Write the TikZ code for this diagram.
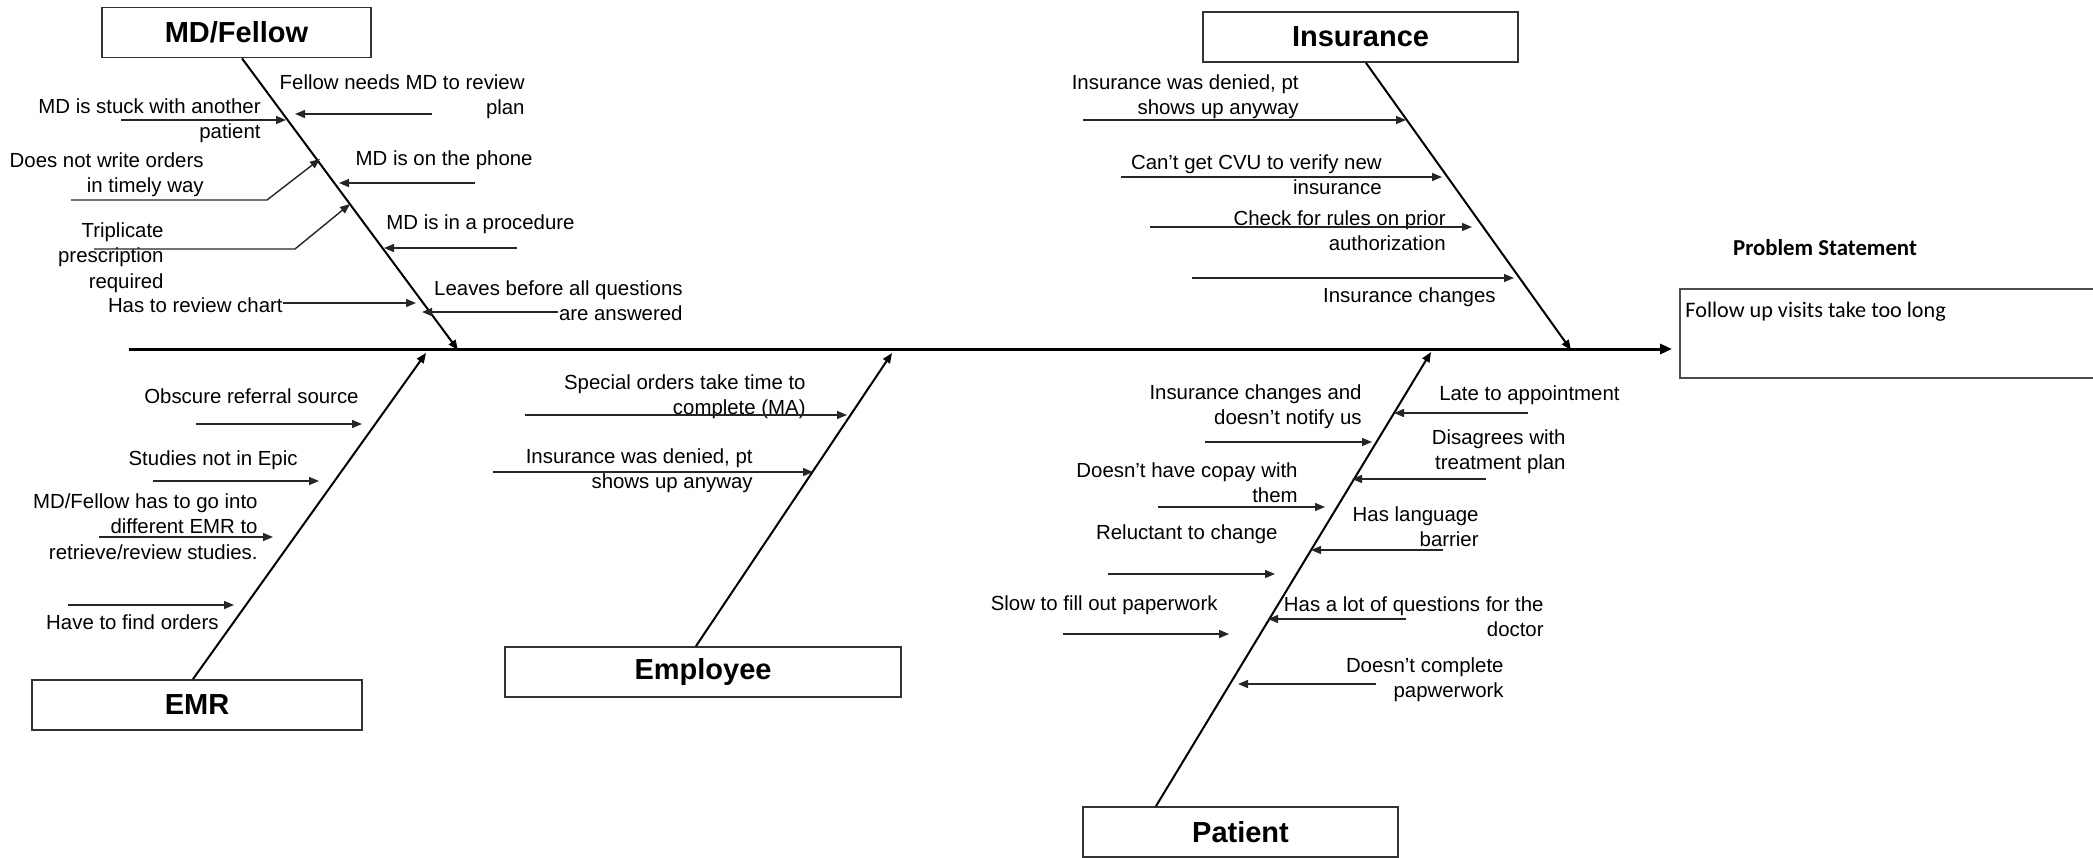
\documentclass[tikz,border=0pt]{standalone}
\usepackage{fontspec}
\setmainfont{Liberation Sans}
\newfontfamily\calibri{Carlito}
\usetikzlibrary{arrows.meta}

\begin{document}
\begin{tikzpicture}[x=0.5pt, y=-0.5pt,
  catbox/.style={draw=black!80, line width=0.9pt, minimum height=25pt, inner sep=0, font=\fontsize{14.5}{17}\selectfont\bfseries},
  cause/.style={font=\fontsize{10.2}{12.8}\selectfont, align=right, anchor=base east, inner sep=0},
  spine/.style={line width=1.5pt, -{Triangle[length=6pt,width=5pt]}},
  bone/.style={line width=1pt, -{Triangle[length=5pt,width=4pt]}},
  twig/.style={draw=black!85, line width=0.7pt, -{Triangle[length=5pt,width=4pt]}}]
\useasboundingbox (0,0) rectangle (2093,857);

%problem statement
\node[font=\calibri\fontsize{11.4}{13}\selectfont\bfseries, anchor=base] (pslabel) at (1825,255) {Problem Statement};
\node[draw=black!70, line width=0.8pt, minimum width=220pt, minimum height=44.5pt, anchor=north west, inner sep=0] (problem) at (1679,288) {};
\node[font=\calibri\fontsize{11.1}{13}\selectfont, anchor=base west, inner sep=0] (pstext) at (1685,317) {Follow up visits take too long};

%spine
\coordinate (tail) at (129,349);
\draw[spine, shorten >=3.5pt] (tail) -- (problem.west |- tail);

%categories
\node[catbox, minimum width=134.5pt] (mdfellow) at (236.5,32.5) {MD/Fellow};
\node[catbox, minimum width=157.5pt] (insurance) at (1360.5,37) {Insurance};
\node[catbox, minimum width=165pt] (emr) at (197,705) {EMR};
\node[catbox, minimum width=198pt] (employee) at (703,672) {Employee};
\node[catbox, minimum width=157.5pt] (patient) at (1240.5,832) {Patient};

\coordinate (hMD) at (458,350);
\coordinate (hIns) at (1571,350);
\coordinate (hEMR) at (426,353);
\coordinate (hEmp) at (892,353);
\coordinate (hPat) at (1431,352);
\draw[bone] ([xshift=2.75pt]mdfellow.south) -- (hMD);
\draw[bone] ([xshift=2.75pt]insurance.south) -- (hIns);
\draw[bone] ([xshift=-2pt]emr.north) -- (hEMR);
\draw[bone] ([xshift=-3.5pt]employee.north) -- (hEmp);
\draw[bone] ([xshift=-42.25pt]patient.north) -- (hPat);

%MD/Fellow causes (base = last line)
\node[cause] (f1) at (525,114.6) {Fellow needs MD to review\\plan};
\node[cause] (f2) at (261,138.6) {MD is stuck with another\\patient};
\node[cause] (f3) at (204,192.6) {Does not write orders\\in timely way};
\node[cause] (f4) at (533,165) {MD is on the phone};
\node[cause] (f5) at (164,288.2) {Triplicate\\prescription\\required};
\node[cause] (f6) at (575,229) {MD is in a procedure};
\node[cause] (f7) at (283,312) {Has to review chart};
\node[cause] (f8) at (683,320.6) {Leaves before all questions\\are answered};
\coordinate (f1a) at (432,114); \coordinate (f1b) at (295,114);
\coordinate (f2a) at (121,120); \coordinate (f2b) at (286,120);
\coordinate (f3a) at (71,200); \coordinate (f3k) at (267,200); \coordinate (f3b) at (320,159);
\coordinate (f4a) at (475,183); \coordinate (f4b) at (339,183);
\coordinate (f5a) at (94,249); \coordinate (f5k) at (295,249); \coordinate (f5b) at (350,204);
\coordinate (f6a) at (517,248); \coordinate (f6b) at (384,248);
\coordinate (f7a) at (283,303); \coordinate (f7b) at (416,303);
\coordinate (f8a) at (558,312); \coordinate (f8b) at (422,312);
\draw[twig] (f1a) -- (f1b);
\draw[twig] (f2a) -- (f2b);
\draw[twig] (f3a) -- (f3k) -- (f3b);
\draw[twig] (f4a) -- (f4b);
\draw[twig] (f5a) -- (f5k) -- (f5b);
\draw[twig] (f6a) -- (f6b);
\draw[twig] (f7a) -- (f7b);
\draw[twig] (f8a) -- (f8b);

%EMR causes
\node[cause] (e1) at (359,403) {Obscure referral source};
\node[cause] (e2) at (298,465) {Studies not in Epic};
\node[cause] (e3) at (258,559.2) {MD/Fellow has to go into\\different EMR to\\retrieve/review studies.};
\node[cause] (e4) at (219,629) {Have to find orders};
\coordinate (e1a) at (196,424); \coordinate (e1b) at (362,424);
\coordinate (e2a) at (153,481); \coordinate (e2b) at (319,481);
\coordinate (e3a) at (99,537); \coordinate (e3b) at (273,537);
\coordinate (e4a) at (68,605); \coordinate (e4b) at (234,605);
\draw[twig] (e1a) -- (e1b);
\draw[twig] (e2a) -- (e2b);
\draw[twig] (e3a) -- (e3b);
\draw[twig] (e4a) -- (e4b);

%Employee causes
\node[cause] (m1) at (806,414.6) {Special orders take time to\\complete (MA)};
\node[cause] (m2) at (753,488.6) {Insurance was denied, pt\\shows up anyway};
\coordinate (m1a) at (525,415); \coordinate (m1b) at (847,415);
\coordinate (m2a) at (493,472); \coordinate (m2b) at (813,472);
\draw[twig] (m1a) -- (m1b);
\draw[twig] (m2a) -- (m2b);

%Insurance causes
\node[cause] (i1) at (1299,114.6) {Insurance was denied, pt\\shows up anyway};
\node[cause] (i2) at (1382,194.6) {Can't get CVU to verify new\\insurance};
\node[cause] (i3) at (1446,250.6) {Check for rules on prior\\authorization};
\node[cause] (i4) at (1496,302) {Insurance changes};
\coordinate (i1a) at (1083,120); \coordinate (i1b) at (1406,120);
\coordinate (i2a) at (1121,177); \coordinate (i2b) at (1442,177);
\coordinate (i3a) at (1150,227); \coordinate (i3b) at (1472,227);
\coordinate (i4a) at (1192,278); \coordinate (i4b) at (1514,278);
\draw[twig] (i1a) -- (i1b);
\draw[twig] (i2a) -- (i2b);
\draw[twig] (i3a) -- (i3b);
\draw[twig] (i4a) -- (i4b);

%Patient causes
\node[cause] (p1) at (1362,424.6) {Insurance changes and\\doesn't notify us};
\node[cause] (p2) at (1620,400) {Late to appointment};
\node[cause] (p3) at (1566,469.6) {Disagrees with\\treatment plan};
\node[cause] (p4) at (1298,502.6) {Doesn't have copay with\\them};
\node[cause] (p5) at (1479,546.6) {Has language\\barrier};
\node[cause] (p6) at (1278,539) {Reluctant to change};
\node[cause] (p7) at (1218,610) {Slow to fill out paperwork};
\node[cause] (p8) at (1544,636.6) {Has a lot of questions for the\\doctor};
\node[cause] (p9) at (1504,697.6) {Doesn't complete\\papwerwork};
\coordinate (p1a) at (1205,442); \coordinate (p1b) at (1372,442);
\coordinate (p2a) at (1528,413); \coordinate (p2b) at (1394,413);
\coordinate (p3a) at (1486,479); \coordinate (p3b) at (1352,479);
\coordinate (p4a) at (1158,507); \coordinate (p4b) at (1325,507);
\coordinate (p5a) at (1443,550); \coordinate (p5b) at (1311,550);
\coordinate (p6a) at (1108,574); \coordinate (p6b) at (1275,574);
\coordinate (p7a) at (1063,634); \coordinate (p7b) at (1229,634);
\coordinate (p8a) at (1406,619); \coordinate (p8b) at (1268,619);
\coordinate (p9a) at (1376,684); \coordinate (p9b) at (1238,684);
\draw[twig] (p1a) -- (p1b);
\draw[twig] (p2a) -- (p2b);
\draw[twig] (p3a) -- (p3b);
\draw[twig] (p4a) -- (p4b);
\draw[twig] (p5a) -- (p5b);
\draw[twig] (p6a) -- (p6b);
\draw[twig] (p7a) -- (p7b);
\draw[twig] (p8a) -- (p8b);
\draw[twig] (p9a) -- (p9b);
\end{tikzpicture}
\end{document}
